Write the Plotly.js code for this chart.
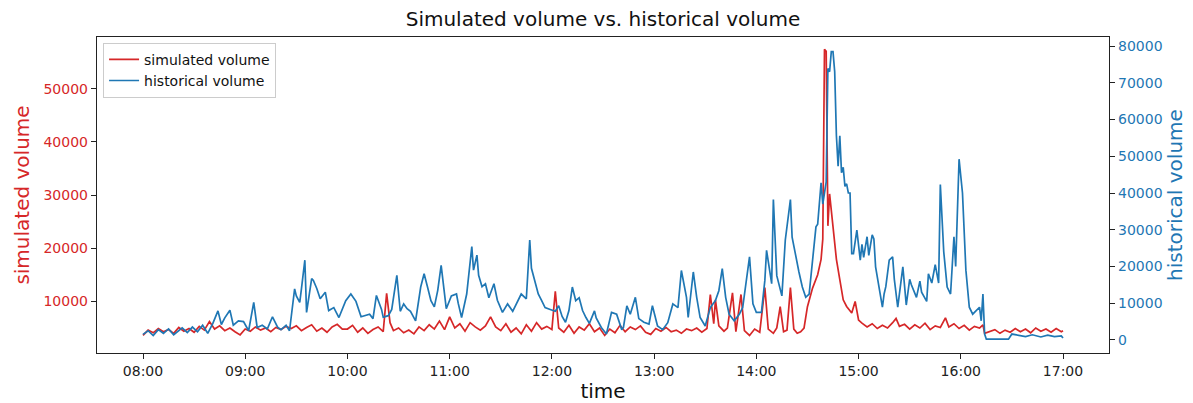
<!DOCTYPE html>
<html>
<head>
<meta charset="utf-8">
<script src="https://cdn.plot.ly/plotly-3.0.1.min.js"></script>
<style>html,body{margin:0;padding:0;background:#fff;}#chart{width:1193px;height:403px;}</style>
</head>
<body>
<div id="chart"></div>
<script>
// minutes after 08:00 for the simulated series
const simMinutes = [0,3,6,9,12,15,18,21,24,27,30,33,36,39,42,45,48,51,54,57,60,63,66,69,72,75,78,81,84,87,90,93,96,99,102,105,108,111,114,117,
120,123,126,129,132,135,138,141,143,145,147,150,153,156,159,162,165,168,171,174,177,180,183,186,189,192,195,198,201,204,207,210,213,216,219,222,225,228,231,234,237,240,242,244,247,250,253,256,259,262,265,268,271,274,277,280,283,286,289,292,295,298,301,304,307,310,313,316,319,322,325,328,331,333,335,336,338,341,343,346,348,351,353,356,359,362,365,367,370,372,374,376,378,380,382,384,386,388,390,393,396,398,399,400,401,402,403,404,405,407,409,411,413,416,418,420,422,
425,428,431,434,437,440,442,444,447,450,453,456,459,462,465,468,471,473,476,479,482,485,488,491,493,494,497,500,503,506,509,512,515,518,521,524,527,530,533,536,539,540];
const simulatedVolume = [3600,4600,4100,4900,4300,4700,4000,5100,4400,4900,4200,5300,4600,6200,4800,5400,4500,5000,4300,3700,4800,4400,5200,4600,5000,4300,5100,4700,5300,4900,5400,4500,5100,5600,4400,5000,4200,5200,5700,4800,
4800,5500,4200,5000,4000,4700,5200,4300,11500,6000,4500,5000,4100,4600,3900,5200,4500,5600,4800,6300,4700,7100,5000,5800,4400,6000,5200,4600,5400,7100,5200,4500,5800,4200,5000,3900,5600,4400,6000,4800,5300,4700,11900,5000,4200,5500,4000,5200,4600,5800,4300,5000,3600,4800,4100,5500,4300,5200,4700,5400,4200,3800,4900,4400,5100,4300,4600,4000,4800,4500,5000,4200,4900,11300,5800,10300,5400,4400,5000,11600,4300,11300,4500,3600,4800,4200,12600,4800,4000,5000,9000,4300,4600,12600,4800,4000,4300,5000,9000,12500,15000,17900,21700,57400,57000,24200,30200,26800,23600,17900,14100,10300,9050,7800,10000,6500,5900,
5200,5800,4900,5500,5000,6000,6800,5300,5700,4800,5600,5000,5900,4700,5400,5100,6900,5200,5800,4900,5500,4600,5300,5000,5600,4000,4300,4700,4000,4600,4200,4900,4300,4800,4100,5000,4400,4800,4200,4900,4300,4500];

// minutes after 08:00 for the historical series
const histMinutes = [0,3,6,9,12,15,18,21,23,26,29,32,35,38,41,44,46,48,51,53,56,59,62,65,67,70,73,76,79,81,84,86,89,90,92,93,95,96,99,100,102,104,107,109,112,115,119,122,125,128,130,133,135,137,140,141,144,146,149,151,153,155,157,160,163,165,167,169,171,173,175,177,178,181,184,185,187,190,193,194,196,197,199,201,203,206,208,211,214,217,220,222,225,227,228,231,232,234,236,239,242,244,246,248,250,252,254,256,258,260,262,265,266,269,272,275,278,281,282,284,286,289,291,294,297,299,302,305,308,311,314,316,319,320,323,325,327,330,333,336,338,340,342,344,347,350,352,356,358,360,363,365,366,369,370,372,375,377,380,381,383,385,387,389,391,393,395,396,397,398,399,401,402,403,404,405,406,407,408,409,410,411,412,413,414,415,416,417,419,421,422,423,425,426,428,429,430,432,434,435,436,438,440,441,443,446,448,450,451,454,456,457,460,461,463,465,467,468,470,472,474,476,477,479,481,483,485,487,489,491,492,493,494,495,500,504,508,510,514,518,522,527,531,535,539,540];
const historicalVolume = [1500,2500,1200,2800,1800,3000,1400,2600,3300,2000,3500,2200,4000,1800,4500,7900,4200,6000,8100,4000,5200,5000,2500,10200,3400,4000,3000,6300,3500,2800,4000,2500,13900,12000,10200,13900,21700,7500,16700,16200,14000,11200,13000,8000,8800,6100,10700,12500,10500,6300,6500,7000,5800,12100,8300,6200,6600,8300,17600,7800,9800,8500,7800,5200,14400,18000,14400,10700,9000,13500,20300,11800,8500,12000,12500,10000,6100,12500,25400,19000,23100,17600,14500,15300,11500,15300,10800,7500,9800,7800,10800,12500,11200,27200,19500,13900,12500,10700,8800,8300,7800,9300,6400,4800,8000,14400,10700,11500,8000,6100,4500,7900,6000,3400,1600,7500,7000,2800,3400,9300,7000,11600,5800,4800,4300,9300,3800,2800,4700,9800,8800,18900,11600,6100,18500,11600,6100,3800,8800,10700,13400,19400,11600,7000,5200,7000,8800,22600,9800,7500,7500,16200,24400,15300,38200,17500,12000,27200,38200,28000,23000,18500,14400,11600,12500,21700,30800,31500,36300,42800,37000,43000,73900,73000,78500,78500,73000,55600,47300,55600,45500,47000,41800,42500,40000,40000,23500,23500,29900,21700,26000,22500,28100,23000,28600,27500,19900,14400,8900,12500,14500,21700,22600,16500,8900,19900,9500,16500,15000,11600,16000,13000,10500,18000,15500,20500,15500,42300,24000,14400,12500,28100,20000,49200,40000,19000,8900,7000,8000,8900,5200,12500,1600,200,200,200,200,1600,1200,900,1400,800,1300,900,1100,500];

const xTicks = ['08:00','09:00','10:00','11:00','12:00','13:00','14:00','15:00','16:00','17:00'];
const leftTicks = [10000, 20000, 30000, 40000, 50000];
const rightTicks = [0, 10000, 20000, 30000, 40000, 50000, 60000, 70000, 80000];

const DAY = '2024-01-01 ';
function pad(n){ return (n < 10 ? '0' : '') + n; }
function toTime(m){ return DAY + pad(8 + Math.floor(m / 60)) + ':' + pad(m % 60); }

const RED = '#d62728';
const BLUE = '#1f77b4';
const FONT = 'DejaVu Sans, sans-serif';

const traces = [
  {x: simMinutes.map(toTime), y: simulatedVolume, type: 'scatter', mode: 'lines', name: 'simulated volume',
   line: {color: RED, width: 1.7}, yaxis: 'y', legendgroup: 'a'},
  {x: histMinutes.map(toTime), y: historicalVolume, type: 'scatter', mode: 'lines', name: 'historical volume',
   line: {color: BLUE, width: 1.7}, yaxis: 'y2', legendgroup: 'b'}
];

const layout = {
  width: 1193, height: 403,
  margin: {l: 97, r: 84, t: 37, b: 50},
  paper_bgcolor: '#fff', plot_bgcolor: '#fff',
  font: {family: FONT, size: 14, color: '#222'},
  title: {text: 'Simulated volume vs. historical volume', font: {family: FONT, size: 20, color: '#111'},
          x: 0.5, xref: 'paper', xanchor: 'center', y: 0.952, yanchor: 'middle'},
  showlegend: true,
  legend: {x: 0.006, y: 0.982, xanchor: 'left', yanchor: 'top', bgcolor: 'rgba(255,255,255,0.9)',
           bordercolor: '#cccccc', borderwidth: 1, font: {family: FONT, size: 14, color: '#111'},
           traceorder: 'grouped', tracegroupgap: 0},
  xaxis: {
    type: 'date',
    range: [DAY + '07:33', DAY + '17:27'],
    tickvals: xTicks.map(t => DAY + t), ticktext: xTicks,
    showgrid: false, zeroline: false,
    showline: true, linecolor: '#222', linewidth: 1.2, mirror: true,
    ticks: 'outside', ticklen: 5, tickcolor: '#222',
    tickfont: {family: FONT, size: 14, color: '#222'},
    title: {text: 'time', font: {family: FONT, size: 20, color: '#111'}, standoff: 6}
  },
  yaxis: {
    range: [300, 59700],
    tickvals: leftTicks, ticktext: leftTicks.map(String),
    showgrid: false, zeroline: false,
    showline: true, linecolor: '#222', linewidth: 1.2,
    ticks: 'outside', ticklen: 5, tickcolor: '#222',
    tickfont: {family: FONT, size: 14, color: RED},
    title: {text: 'simulated volume', font: {family: FONT, size: 20, color: RED}, standoff: 8}
  },
  yaxis2: {
    overlaying: 'y', side: 'right',
    range: [-3560, 82470],
    tickvals: rightTicks, ticktext: rightTicks.map(String),
    showgrid: false, zeroline: false,
    showline: true, linecolor: '#222', linewidth: 1.2,
    ticks: 'outside', ticklen: 5, tickcolor: '#222',
    tickfont: {family: FONT, size: 14, color: BLUE},
    title: {text: 'historical volume', font: {family: FONT, size: 20, color: BLUE}, standoff: 6}
  }
};

Plotly.newPlot('chart', traces, layout, {displayModeBar: false, staticPlot: true});
</script>
</body>
</html>
